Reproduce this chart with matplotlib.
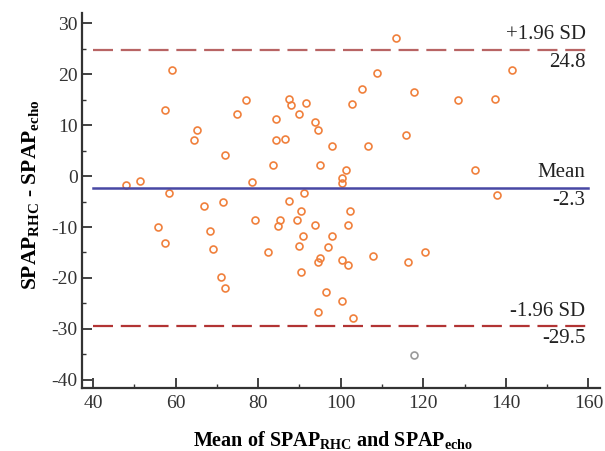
import matplotlib.pyplot as plt
import numpy as np
from matplotlib.ticker import MultipleLocator

plt.rcParams['font.family'] = ['Liberation Serif', 'DejaVu Serif']
plt.rcParams['mathtext.fontset'] = 'custom'
plt.rcParams['mathtext.rm'] = 'Liberation Serif'
plt.rcParams['mathtext.bf'] = 'Liberation Serif:bold'
plt.rcParams['axes.unicode_minus'] = False

# mean of the two methods (x) and their difference (y)
mean_vals = [59.2, 57.3, 65.2, 64.4, 71.9, 74.8, 77.1, 47.9, 51.3, 78.5, 58.4,
             113.3, 108.7, 105.2, 117.7, 87.4, 87.9, 91.6, 89.8, 102.8, 84.2,
             93.8, 94.5, 84.2, 86.4, 97.9, 106.7, 115.9, 83.7, 95.0, 101.3,
             100.2, 100.2, 91.1,
             141.5, 128.3, 137.4, 132.4, 137.9,
             66.8, 71.4, 79.2, 55.7, 68.3, 57.5, 69.1, 70.9, 71.9,
             87.4, 90.4, 102.2, 85.3, 84.8, 89.3, 93.7, 101.7, 90.8, 97.9,
             89.8, 96.9, 82.3, 95.0, 94.4, 100.2, 101.8, 107.9, 116.4, 120.4,
             90.4, 96.4, 100.2, 94.4, 102.9]
diff_vals = [20.9, 13.0, 9.1, 7.1, 4.2, 12.1, 15.0, -1.8, -0.9, -1.2, -3.4,
             27.1, 20.2, 17.1, 16.5, 15.1, 14.0, 14.4, 12.2, 14.1, 11.2,
             10.6, 9.1, 7.1, 7.2, 6.0, 6.0, 8.0, 2.2, 2.2, 1.2,
             -0.4, -1.4, -3.3,
             20.9, 15.0, 15.2, 1.1, -3.8,
             -5.9, -5.1, -8.7, -9.9, -10.8, -13.1, -14.3, -19.8, -21.9,
             -4.8, -6.9, -6.9, -8.6, -9.8, -8.7, -9.6, -9.6, -11.8, -11.8,
             -13.8, -13.9, -14.9, -16.1, -16.8, -16.5, -17.5, -15.7, -16.8, -14.9,
             -18.8, -22.7, -24.6, -26.7, -27.8]
outlier_x = [117.7]
outlier_y = [-35.2]

mean_diff = -2.3
upper_loa = 24.8
lower_loa = -29.5

fig = plt.figure(figsize=(6.05, 4.51), dpi=100)
ax = fig.add_axes([0.1355, 0.1397, 0.8562, 0.8313])

ax.plot(mean_vals, diff_vals, 'o', ms=5, mfc='none', mec='#f0803c', mew=1.2)
ax.plot(outlier_x, outlier_y, 'o', ms=5, mfc='none', mec='#9a9a9a', mew=1.2)

ax.plot([40, 160], [upper_loa, upper_loa], color='#b86464', lw=1.6, dashes=(9, 3.5))
ax.plot([40, 160], [mean_diff, mean_diff], color='#4848a4', lw=1.8)
ax.plot([40, 160], [lower_loa, lower_loa], color='#b23434', lw=1.6, dashes=(9, 3.5))

txt = dict(ha='right', fontsize=15, color='#222222', textcoords='offset points')
ax.annotate('+1.96 SD', xy=(159.3, upper_loa), xytext=(0, 4), va='bottom', **txt)
ax.annotate('%.1f' % upper_loa, xy=(159.3, upper_loa), xytext=(0, -2), va='top', **txt)
ax.annotate('Mean', xy=(159.3, mean_diff), xytext=(0, 4), va='bottom', **txt)
ax.annotate('%.1f' % mean_diff, xy=(159.3, mean_diff), xytext=(0, -2), va='top', **txt)
ax.annotate('-1.96 SD', xy=(159.3, lower_loa), xytext=(0, 4), va='bottom', **txt)
ax.annotate('%.1f' % lower_loa, xy=(159.3, lower_loa), xytext=(0, -2), va='top', **txt)

ax.set_xlim(37.3, 162.8)
ax.set_ylim(-41.6, 32)
ax.xaxis.set_major_locator(MultipleLocator(20))
ax.xaxis.set_minor_locator(MultipleLocator(10))
ax.yaxis.set_major_locator(MultipleLocator(10))
ax.yaxis.set_minor_locator(MultipleLocator(5))
ax.set_xticks(np.arange(40, 161, 20))

for side in ['top', 'right']:
    ax.spines[side].set_visible(False)
for side in ['left', 'bottom']:
    ax.spines[side].set_linewidth(1.6)
    ax.spines[side].set_color('#333333')

ax.tick_params(which='major', direction='in', length=7, width=1.3, colors='#333333',
               labelsize=14, labelcolor='#333333')
ax.tick_params(which='minor', direction='in', length=3, width=1.0, colors='#333333')
ax.tick_params(axis='x', pad=5)
ax.tick_params(axis='y', pad=3)

ax.set_xlabel(r'Mean of SPAP$_{\mathbf{RHC}}$ and SPAP$_{\mathbf{echo}}$',
              fontsize=14.5, fontweight='bold')
ax.set_ylabel(r'SPAP$_{\mathbf{RHC}}$ - SPAP$_{\mathbf{echo}}$',
              fontsize=15.5, fontweight='bold')
ax.xaxis.set_label_coords(0.485, -0.11)
ax.yaxis.set_label_coords(-0.078, 0.515)

fig.savefig('out.png', dpi=100)
